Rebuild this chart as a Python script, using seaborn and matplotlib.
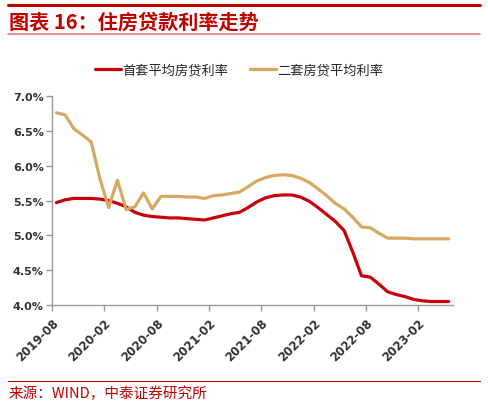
import pandas as pd
import matplotlib.pyplot as plt
import seaborn as sns
from matplotlib.lines import Line2D
from matplotlib.ticker import FuncFormatter

# monthly data, 2019-08 .. 2023-05
months = pd.period_range('2019-08', '2023-05', freq='M').strftime('%Y-%m').tolist()

first_home = [5.47, 5.51, 5.53, 5.53, 5.53, 5.52, 5.50, 5.46, 5.41, 5.33,
              5.29, 5.27, 5.26, 5.25, 5.25, 5.24, 5.23, 5.22, 5.25, 5.28,
              5.31, 5.33, 5.40, 5.48, 5.54, 5.57, 5.58, 5.58, 5.55, 5.49,
              5.40, 5.30, 5.20, 5.07, 4.76, 4.42, 4.40, 4.30, 4.19, 4.15,
              4.12, 4.08, 4.06, 4.05, 4.05, 4.05]
second_home = [6.76, 6.73, 6.53, 6.44, 6.34, 5.81, 5.40, 5.79, 5.37, 5.41,
               5.61, 5.38, 5.56, 5.56, 5.56, 5.55, 5.55, 5.53, 5.57, 5.58,
               5.60, 5.62, 5.70, 5.78, 5.83, 5.86, 5.87, 5.86, 5.82, 5.76,
               5.67, 5.57, 5.46, 5.38, 5.26, 5.12, 5.11, 5.03, 4.96, 4.96,
               4.96, 4.95, 4.95, 4.95, 4.95, 4.95]

series_names = ['首套平均房贷利率', '二套房贷平均利率']
colors = ['#C8000A', '#D6A862']
tick_labels = ['2019-08', '2020-02', '2020-08', '2021-02',
               '2021-08', '2022-02', '2022-08', '2023-02']

df = pd.DataFrame({'idx': range(len(months)), 'month': months,
                   series_names[0]: first_home, series_names[1]: second_home})
long_df = df.melt(id_vars=['idx', 'month'], var_name='series', value_name='rate')

sns.set_style('ticks')
plt.rcParams['font.family'] = ['Noto Sans CJK SC', 'DejaVu Sans']

fig = plt.figure(figsize=(4.88, 4.06), dpi=100)
ax = fig.add_axes([0.1066, 0.2463, 0.8217, 0.5147])

sns.lineplot(data=long_df, x='idx', y='rate', hue='series',
             palette=dict(zip(series_names, colors)), linewidth=2.3,
             legend=False, ax=ax)

ax.set_xlim(-0.5, len(months) - 0.5)
ax.set_ylim(4.0, 7.0)
ax.set_yticks([4.0, 4.5, 5.0, 5.5, 6.0, 6.5, 7.0])
ax.yaxis.set_major_formatter(FuncFormatter(lambda v, p: f'{v:.1f}%'))
ax.set_xticks([-0.5 + 6 * k for k in range(len(tick_labels))])
ax.set_xticklabels(tick_labels, rotation=45, ha='right', rotation_mode='anchor')
ax.set_xlabel('')
ax.set_ylabel('')
for lab in ax.get_yticklabels():
    lab.set_fontsize(8)
for lab in ax.get_xticklabels():
    lab.set_fontsize(8.5)
for lab in ax.get_xticklabels() + ax.get_yticklabels():
    lab.set_fontweight('bold')
    lab.set_color('#333333')
    lab.set_family(['DejaVu Sans'])
ax.tick_params(axis='both', length=4, width=1, color='#999999', pad=2)
ax.tick_params(axis='x', pad=4)
for side in ['top', 'right']:
    ax.spines[side].set_visible(False)
for side in ['left', 'bottom']:
    ax.spines[side].set_color('#999999')
    ax.spines[side].set_linewidth(1)

# legend
handles = [Line2D([], [], color=c, linewidth=2.3) for c in colors]
fig.legend(handles, series_names, loc='center', bbox_to_anchor=(0.49, 0.825),
           ncol=2, frameon=False, fontsize=9.5, handlelength=2.0,
           handletextpad=0.1, columnspacing=1.6)

# title block
fig.add_artist(Line2D([0.016, 0.984], [0.985, 0.985], color='#C00000', linewidth=2.2))
fig.text(0.018, 0.945, '图表 16：住房贷款利率走势', color='#C00000', fontsize=14.5,
         fontweight='bold', va='center', ha='left')
fig.add_artist(Line2D([0.016, 0.984], [0.913, 0.913], color='#D98080', linewidth=1.2))

# source
fig.add_artist(Line2D([0.016, 0.984], [0.06, 0.06], color='#C00000', linewidth=0.8))
fig.text(0.018, 0.03, '来源：WIND，中泰证券研究所', color='#C00000', fontsize=10.5,
         va='center', ha='left')

fig.savefig('out.png', dpi=100)
